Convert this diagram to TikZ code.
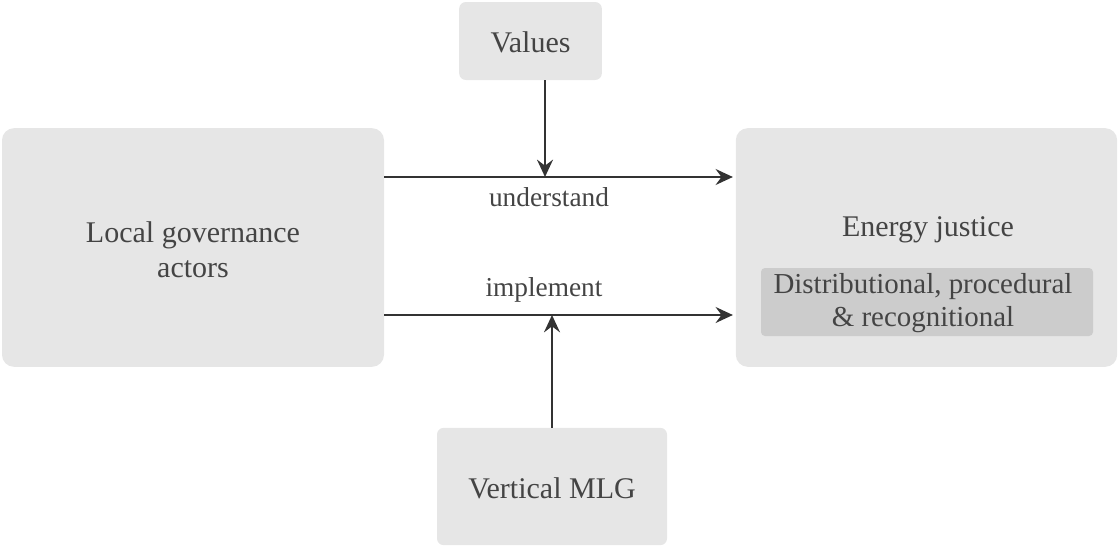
\documentclass[tikz,border=0pt]{standalone}
\usepackage{fontspec}
\setmainfont{Liberation Serif}
\usetikzlibrary{arrows.meta}

\definecolor{boxgrey}{HTML}{E6E6E6}
\definecolor{innergrey}{HTML}{CCCCCC}
\definecolor{textgrey}{HTML}{444444}
\definecolor{linegrey}{HTML}{333333}

\tikzset{
  bigbox/.style={fill=boxgrey, draw=none, rounded corners=9pt, inner sep=0pt},
  smallbox/.style={fill=boxgrey, draw=none, rounded corners=5pt, inner sep=0pt},
  innerbox/.style={fill=innergrey, draw=none, rounded corners=3pt, inner sep=0pt},
  boxtext/.style={text=textgrey, font=\fontsize{22.5}{26}\selectfont, align=center},
  labeltext/.style={text=textgrey, font=\fontsize{20.5}{23}\selectfont},
  flow/.style={->, draw=linegrey, line width=1.5pt}
}

\begin{document}
\begin{tikzpicture}[x=0.75pt, y=-0.75pt, >={Stealth[length=13pt, width=12pt, inset=4.5pt]}]
    % --- 1. frame ---
    \useasboundingbox (0,0) rectangle (1118,546);

    % --- 2. boxes ---
    \node[smallbox, minimum width=107pt, minimum height=58.5pt] (values) at (530.5,41) {};
    \node[bigbox, minimum width=286.5pt, minimum height=179pt] (local) at (193,247.5) {};
    \node[bigbox, minimum width=286pt, minimum height=179pt] (justice) at (926.5,247.5) {};
    \node[innerbox, minimum width=249pt, minimum height=51pt] (kinds) at (927,302) {};
    \node[smallbox, minimum width=172.5pt, minimum height=88pt] (mlg) at (552,486.5) {};

    % texts in the boxes
    \node[boxtext] (valuestxt) at (530.5,42) {Values};
    \node[boxtext] (localtxt) at (193,250) {Local governance\\actors};
    \node[boxtext] (justicetxt) at (928,230) {Energy justice};
    \node[boxtext, font=\fontsize{21.7}{25}\selectfont] (kindstxt) at (923,303) {Distributional, procedural\\\& recognitional};
    \node[boxtext] (mlgtxt) at (552,488) {Vertical MLG};

    % --- 3. connectors ---
    \coordinate (hit1) at (545,177);
    \coordinate (hit2) at (552,315);

    \draw[flow, shorten >=2pt] (local.east |- hit1) -- (justice.west |- hit1);
    \draw[flow, shorten >=2pt] (local.east |- hit2) -- (justice.west |- hit2);
    \draw[flow] (values.south -| hit1) -- (hit1);
    \draw[flow] (mlg.north -| hit2) -- (hit2);

    % labels
    \node[labeltext] (understand) at (549,197) {understand};
    \node[labeltext] (implement) at (544,290) {implement};
\end{tikzpicture}
\end{document}
